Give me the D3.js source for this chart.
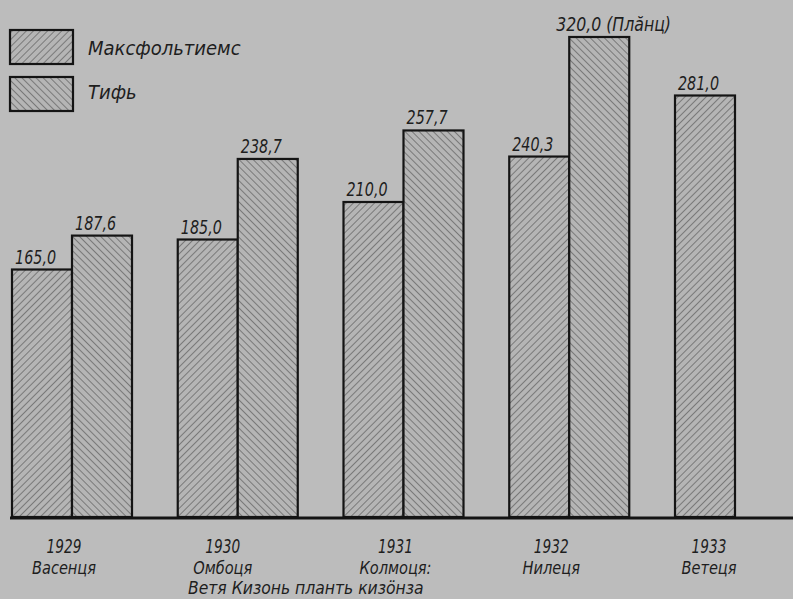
<!DOCTYPE html>
<html>
<head>
<meta charset="utf-8">
<script src="https://cdn.jsdelivr.net/npm/d3@7"></script>
<style>
html,body{margin:0;padding:0;background:#bcbcbc;}
svg{display:block;}
text{font-family:"DejaVu Sans Condensed","Liberation Sans Narrow",sans-serif;font-style:italic;fill:#1e1e1e;}
</style>
</head>
<body>
<svg id="chart" width="793" height="599"></svg>
<script>
// ---- data ----
const years = ["1929", "1930", "1931", "1932", "1933"];
const months = ["Васенця", "Омбоця", "Колмоця:", "Нилеця", "Ветеця"];
const seriesNames = ["Максфольтиемс", "Тифь"];
const maxValues = [165.0, 185.0, 210.0, 240.3, 281.0];
const tifValues = [187.6, 238.7, 257.7, 320.0, null];
const valueLabels = [["165,0","187,6"],["185,0","238,7"],["210,0","257,7"],["240,3","320,0 (Плăнц)"],["281,0",null]];
const axisTitle = "Ветя Кизонь планть кизӧнза";

// ---- layout ----
const W = 793, H = 599;
const baseY = 517, topY = 37;
const svg = d3.select("#chart");

const x0 = d3.scaleBand().domain(years).range([12, 795]).paddingInner(0.276).paddingOuter(0).align(0);
const x1 = d3.scaleBand().domain(["max","tif"]).range([0, x0.bandwidth()]);
const y = d3.scaleLinear().domain([0, 320]).range([baseY, topY]);

svg.append("rect").attr("width", W).attr("height", H).attr("fill", "#bcbcbc");

const defs = svg.append("defs");
function hatch(id, dir) {
  const p = defs.append("pattern").attr("id", id).attr("patternUnits", "userSpaceOnUse")
    .attr("width", 5).attr("height", 5)
    .attr("patternTransform", `rotate(${dir > 0 ? 45 : -45})`);
  p.append("rect").attr("width", 5).attr("height", 5).attr("fill", "#b5b5b5");
  p.append("line").attr("x1", 0).attr("y1", 0).attr("x2", 0).attr("y2", 5)
    .attr("stroke", "#767676").attr("stroke-width", 1.9);
}
hatch("hMax", 1);
hatch("hTif", -1);

function ctext(parent, x, y, str, size, anchor, sx) {
  return parent.append("text")
    .attr("transform", `translate(${x},${y}) scale(${sx},1)`)
    .attr("text-anchor", anchor || "start")
    .attr("font-size", size)
    .text(str);
}

const rows = years.map((yr, i) => ({ yr, i, max: maxValues[i], tif: tifValues[i] }));

const groups = svg.selectAll("g.grp").data(rows).join("g")
  .attr("class", "grp")
  .attr("transform", d => `translate(${x0(d.yr)},0)`);

const barData = d => [{k: "max", v: d.max, i: d.i, j: 0}, {k: "tif", v: d.tif, i: d.i, j: 1}].filter(e => e.v != null);

groups.selectAll("rect.bar")
  .data(barData)
  .join("rect")
  .attr("class", "bar")
  .attr("x", d => x1(d.k))
  .attr("width", x1.bandwidth())
  .attr("y", d => y(d.v))
  .attr("height", d => y(0) - y(d.v))
  .attr("fill", d => d.k === "max" ? "url(#hMax)" : "url(#hTif)")
  .attr("stroke", "#141414")
  .attr("stroke-width", 2.2);

groups.each(function(d) {
  const g = d3.select(this);
  barData(d).forEach(e => {
    const lx = x1(e.k) + 3 + (e.v === 320 ? -16 : 0);
    ctext(g, lx, y(e.v) - 6, valueLabels[e.i][e.j], 19, "start", e.v === 320 ? 0.92 : 0.84);
  });
});

svg.append("line").attr("x1", 10).attr("x2", W).attr("y1", baseY + 1).attr("y2", baseY + 1)
  .attr("stroke", "#141414").attr("stroke-width", 2.8);

const nudge = [-8, -15, -8, -18, 4];
rows.forEach(d => {
  const nBars = d.tif == null ? 1 : 2;
  const cx = x0(d.yr) + x1.bandwidth() * nBars / 2 + nudge[d.i];
  ctext(svg, cx, 553, d.yr, 19, "middle", 0.8);
  ctext(svg, cx, 574, months[d.i], 18, "middle", 0.9);
});
ctext(svg, 188, 594, axisTitle, 17, "start", 1.02);

seriesNames.forEach((n, i) => {
  svg.append("rect").attr("x", 10).attr("y", 30 + i * 47).attr("width", 63).attr("height", 34)
    .attr("fill", i === 0 ? "url(#hMax)" : "url(#hTif)")
    .attr("stroke", "#141414").attr("stroke-width", 2.2);
  ctext(svg, 88, 55 + i * 44, n, 20, "start", 1);
});
</script>
</body>
</html>
